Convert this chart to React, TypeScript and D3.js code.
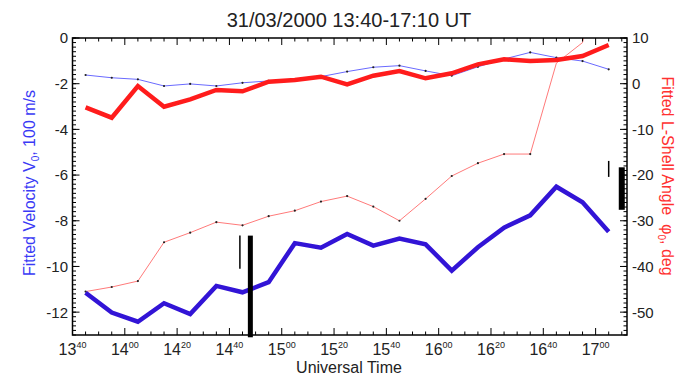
import * as d3 from "d3";

// sample times (UT), one every 10 minutes
const sampleTimes = [
  "13:45", "13:55", "14:05", "14:15", "14:25", "14:35", "14:45", "14:55", "15:05", "15:15", "15:25",
  "15:35", "15:45", "15:55", "16:05", "16:15", "16:25", "16:35", "16:45", "16:55", "17:05",
];

// fitted velocity V0, 100 m/s (left axis)
const velocityFit = [
  -11.15, -12.02, -12.42, -11.61, -12.08, -10.85, -11.13, -10.69, -8.98, -9.18, -8.58,
  -9.09, -8.78, -9.03, -10.18, -9.16, -8.3, -7.76, -6.51, -7.19, -8.48,
];
const velocityAlt = [
  -1.62, -1.74, -1.81, -2.1, -2.01, -2.1, -1.96, -1.88, -1.81, -1.69, -1.47,
  -1.28, -1.21, -1.44, -1.65, -1.26, -0.92, -0.63, -0.86, -1.01, -1.37,
];

// fitted L-shell angle, deg (right axis)
const angleFit = [
  -5.17, -7.44, -0.51, -5.04, -3.42, -1.38, -1.67, 0.44, 0.81, 1.53, -0.13,
  1.75, 2.78, 1.18, 2.27, 4.24, 5.34, 4.97, 5.18, 6.06, 8.47,
];
const angleAlt = [
  -45.5, -44.5, -43.2, -34.7, -32.6, -30.3, -31.0, -29.0, -27.8, -25.8, -24.6,
  -26.9, -30.0, -25.2, -20.2, -17.4, -15.4, -15.4, 4.5, 9, 40,
];

// vertical markers
const velocityMarks = [
  { time: "14:44", top: -8.65, bottom: -10.1 },
  { time: "14:48", top: -8.65, bottom: -13.1 },
];
const angleMarks = [
  { time: "17:05", top: -16.9, bottom: -20.4 },
  { time: "17:10", top: -18.3, bottom: -27.6 },
];

const xTickLabels = ["13:40", "14:00", "14:20", "14:40", "15:00", "15:20", "15:40", "16:00", "16:20", "16:40", "17:00"];
const leftTicks = [0, -2, -4, -6, -8, -10, -12];
const rightTicks = [10, 0, -10, -20, -30, -40, -50];

const toMin = (s: string) => {
  const [h, m] = s.split(":").map(Number);
  return h * 60 + m;
};

const W = 680;
const H = 375;
const left = 72.5;
const right = 627;
const top = 38;
const bottom = 335;
const font = "'Liberation Sans', Arial, Helvetica, sans-serif";

export default function App() {
  const x = d3.scaleLinear().domain([toMin("13:40"), toMin("17:12")]).range([left, right]);
  const yL = d3.scaleLinear().domain([-13, 0]).range([bottom, top]);
  const yR = d3.scaleLinear().domain([-55, 10]).range([bottom, top]);
  const t = sampleTimes.map(toMin);

  const lineL = d3.line<number>().x((_, i) => x(t[i])).y((d) => yL(d));
  const lineR = d3.line<number>().x((_, i) => x(t[i])).y((d) => yR(d));

  const xMinor = d3.range(toMin("13:40"), toMin("17:12") + 1, 5);
  const leftMinor = d3.range(0, 66).map((i) => -13 + i * 0.2);
  const rightMinor = d3.range(-55, 11, 1);

  return (
    <svg width={W} height={H} style={{ position: "absolute", left: 0, top: 0, background: "#fff" }} fontFamily={font}>
      <defs>
        <clipPath id="plot">
          <rect x={left} y={top} width={right - left} height={bottom - top} />
        </clipPath>
      </defs>

      <text x={349} y={27} textAnchor="middle" fontSize={20} fill="#222">
        31/03/2000 13:40-17:10 UT
      </text>

      <g clipPath="url(#plot)">
        <path d={lineL(velocityAlt) ?? ""} fill="none" stroke="#6a6aff" strokeWidth={1} />
        {velocityAlt.map((v, i) => (
          <circle key={"vb" + i} cx={x(t[i])} cy={yL(v)} r={1.1} fill="#222" />
        ))}
        <path d={lineR(angleAlt) ?? ""} fill="none" stroke="#ff7a7a" strokeWidth={1} />
        {angleAlt.slice(0, 18).map((v, i) => (
          <circle key={"ra" + i} cx={x(t[i])} cy={yR(v)} r={1.1} fill="#222" />
        ))}
        <path d={lineR(angleFit) ?? ""} fill="none" stroke="#ff1c1c" strokeWidth={4.5} strokeLinejoin="miter" />
        <path d={lineL(velocityFit) ?? ""} fill="none" stroke="#3214d6" strokeWidth={4.5} strokeLinejoin="miter" />
      </g>

      {velocityMarks.map((m, i) => (
        <line key={"vm" + i} x1={x(toMin(m.time))} x2={x(toMin(m.time))} y1={yL(m.top)} y2={yL(m.bottom)}
          stroke="#000" strokeWidth={i === 0 ? 1.5 : 5} />
      ))}
      {angleMarks.map((m, i) => (
        <line key={"am" + i} x1={x(toMin(m.time))} x2={x(toMin(m.time))} y1={yR(m.top)} y2={yR(m.bottom)}
          stroke="#000" strokeWidth={i === 0 ? 1.5 : 6} />
      ))}

      {/* frame */}
      <rect x={left} y={top} width={right - left} height={bottom - top} fill="none" stroke="#000" strokeWidth={1.5} />

      {/* bottom / top ticks */}
      {xMinor.map((m) => {
        const major = xTickLabels.some((s) => toMin(s) === m);
        const len = major ? 7 : 3.5;
        return (
          <g key={"xt" + m} stroke="#000" strokeWidth={1}>
            <line x1={x(m)} x2={x(m)} y1={bottom} y2={bottom - len} />
            <line x1={x(m)} x2={x(m)} y1={top} y2={top + len} />
          </g>
        );
      })}
      {xTickLabels.map((s) => {
        const [h, m] = s.split(":");
        return (
          <text key={"xl" + s} x={x(toMin(s))} y={355} textAnchor="middle" fontSize={16} fill="#222">
            {h}
            <tspan dy={-7} fontSize={9}>{m}</tspan>
          </text>
        );
      })}
      <text x={349} y={373} textAnchor="middle" fontSize={16} fill="#222">Universal Time</text>

      {/* left axis */}
      {leftMinor.map((v, i) => (
        <line key={"lm" + i} x1={left} x2={left + 3.5} y1={yL(v)} y2={yL(v)} stroke="#000" strokeWidth={1} />
      ))}
      {leftTicks.map((v) => (
        <g key={"lt" + v}>
          <line x1={left} x2={left + 7} y1={yL(v)} y2={yL(v)} stroke="#000" strokeWidth={1} />
          <text x={68} y={yL(v)} dy="0.36em" textAnchor="end" fontSize={15} fill="#222">{v}</text>
        </g>
      ))}
      <text transform="translate(29,183) rotate(-90)" textAnchor="middle" dy="0.35em" fontSize={16} fill="#3a3af5">
        Fitted Velocity V<tspan dy={4} fontSize={10}>0</tspan><tspan dy={-4}>, 100 m/s</tspan>
      </text>

      {/* right axis */}
      {rightMinor.map((v) => (
        <line key={"rm" + v} x1={right} x2={right - 3.5} y1={yR(v)} y2={yR(v)} stroke="#000" strokeWidth={1} />
      ))}
      {rightTicks.map((v) => (
        <g key={"rt" + v}>
          <line x1={right} x2={right - 7} y1={yR(v)} y2={yR(v)} stroke="#000" strokeWidth={1} />
          <text x={632} y={yR(v)} dy="0.36em" textAnchor="start" fontSize={15} fill="#222">{v}</text>
        </g>
      ))}
      <text transform="translate(668,176) rotate(90)" textAnchor="middle" dy="0.35em" fontSize={16} fill="#ff3030">
        {"Fitted L-Shell Angle\u00a0\u00a0φ"}<tspan dy={4} fontSize={10}>0</tspan><tspan dy={-4}>, deg</tspan>
      </text>
    </svg>
  );
}
